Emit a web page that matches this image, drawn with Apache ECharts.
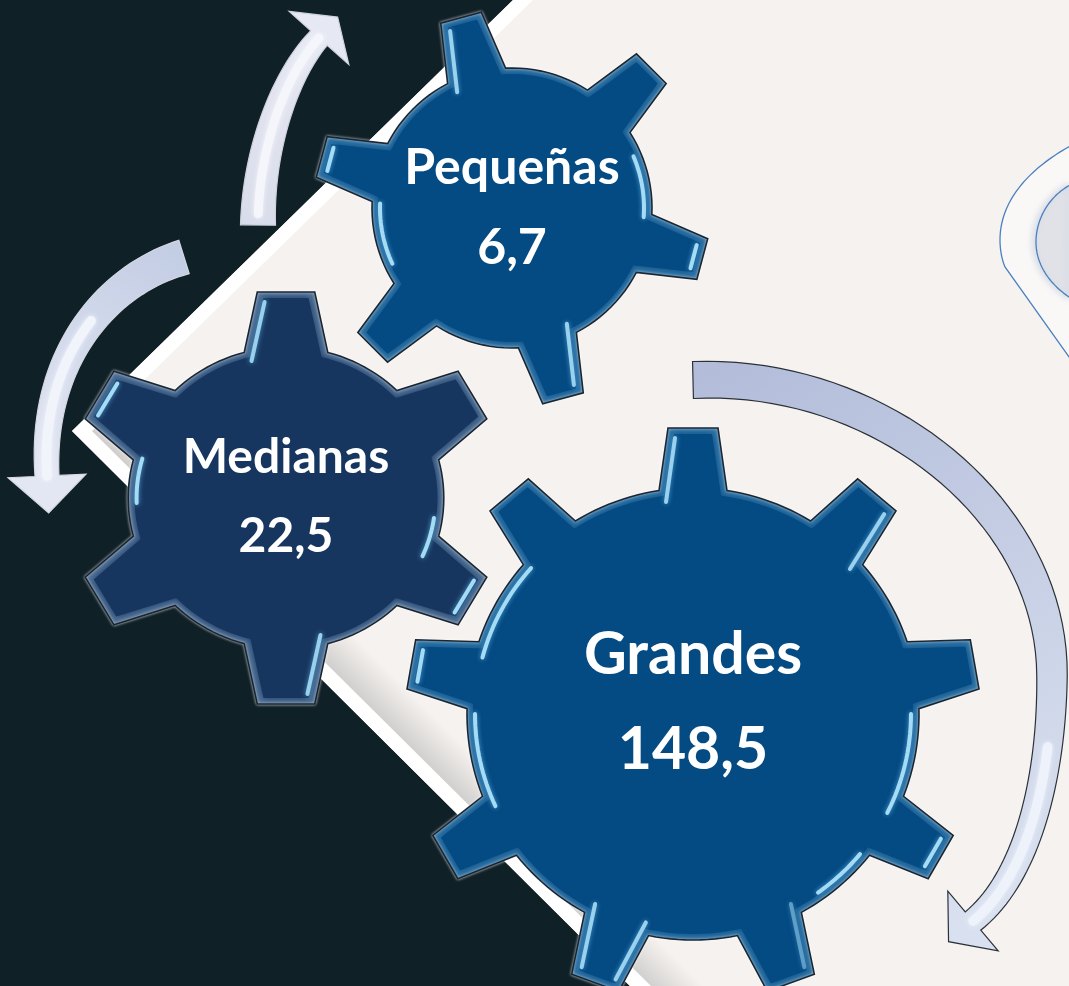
<!DOCTYPE html>
<html>
<head>
<meta charset="utf-8">
<title>Empresas</title>
<script src="https://cdn.jsdelivr.net/npm/echarts@6/dist/echarts.min.js"></script>
<style>
  html, body { margin: 0; padding: 0; background: #0f2027; overflow: hidden; }
  #main { width: 1069px; height: 986px; }
</style>
</head>
<body>
<div id="main"></div>
<script>
// values
let gearNames = ['Pequeñas', 'Medianas', 'Grandes'];
let gearValues = [6.7, 22.5, 148.5];

// layout, in axis units (the axes run 1:1 with the page)
let gearLayout = [
  {
    cx: 512, cy: 208, outer: 197, body: 140, tipW: 42, baseW: 60, teeth: 6, start: 45, sx: 1,
    main: '#044a83', bevel: '#2f73a5', fontSize: 50, nameY: -40, valueY: 40,
    flanks: [[5, 1, 0.9], [2, 1, 0.9]],
    tips: [4, 1],
    arcs: [[-4, 23], [178, 205]]
  },
  {
    cx: 286, cy: 498, outer: 206, body: 151, tipW: 55, baseW: 80, teeth: 6, start: 90, sx: 1.045,
    main: '#17365f', bevel: '#4f7096', fontSize: 48, nameY: -40, valueY: 39,
    flanks: [[0, 1, 0.9], [3, 1, 0.9]],
    tips: [5, 2],
    arcs: [[-24, -8], [164, 182]]
  },
  {
    cx: 693, cy: 714, outer: 286, body: 226, tipW: 50, baseW: 68, teeth: 9, start: 90, sx: 1,
    main: '#044a83', bevel: '#2f73a5', fontSize: 59, nameY: -59, valueY: 36,
    flanks: [[0, 1, 0.9], [1, -1, 0.9], [5, 1, 0.9], [5, -1, 0.9], [4, 1, 0.5]],
    tips: [7, 3],
    arcs: [[138, 165], [180, 205], [-27, 0], [-55, -40]]
  }
];

let arrowLayout = [
  {
    curve: [[[258, 225], [258, 150], [285, 75], [319, 38]]],
    w0: 35, w1: 22, headHalf: 40, headLen: 28,
    c0: '#d9dcea', c1: '#e6e9f3', line: '#cfd2dd', stripe: '#f4f6fb', stripeFrom: 0.05
  },
  {
    curve: [[[184, 257], [105, 280], [40, 360], [47, 476]]],
    w0: 35, w1: 24, headHalf: 39, headLen: 37,
    c0: '#c3cde4', c1: '#e3e7f3', line: '#d5d8e2', stripe: '#f1f4fb', stripeFrom: 0.45
  },
  {
    curve: [
      [[693, 380], [880, 372], [1052, 510], [1052, 675]],
      [[1052, 675], [1052, 770], [1030, 875], [973, 921]]
    ],
    w0: 37, w1: 24, headHalf: 39, headLen: 32,
    c0: '#b3bdda', c1: '#d9e0ef', line: '#2b3138', stripe: '#eef2fa', stripeFrom: 0.62
  }
];

let pageColor = '#f6f2ef';

function sampleCurve(segs) {
  let pts = [];
  segs.forEach(function (s, k) {
    for (let i = k ? 1 : 0; i <= 40; i++) {
      let t = i / 40, m = 1 - t;
      pts.push([
        m * m * m * s[0][0] + 3 * m * m * t * s[1][0] + 3 * m * t * t * s[2][0] + t * t * t * s[3][0],
        m * m * m * s[0][1] + 3 * m * m * t * s[1][1] + 3 * m * t * t * s[2][1] + t * t * t * s[3][1]
      ]);
    }
  });
  return pts;
}

function unitAt(pts, i) {
  let a = pts[Math.max(i - 1, 0)], b = pts[Math.min(i + 1, pts.length - 1)];
  let dx = b[0] - a[0], dy = b[1] - a[1], len = Math.sqrt(dx * dx + dy * dy);
  return [dx / len, dy / len];
}

function arrowElements(a) {
  let pts = sampleCurve(a.curve);
  let left = [], right = [], n = pts.length - 1;
  pts.forEach(function (p, i) {
    let u = unitAt(pts, i);
    let w = (a.w0 + (a.w1 - a.w0) * i / n) / 2;
    left.push([p[0] + u[1] * w, p[1] - u[0] * w]);
    right.push([p[0] - u[1] * w, p[1] + u[0] * w]);
  });
  let end = pts[n], u = unitAt(pts, n);
  let head = [
    [end[0] + u[1] * a.headHalf, end[1] - u[0] * a.headHalf],
    [end[0] + u[0] * a.headLen, end[1] + u[1] * a.headLen],
    [end[0] - u[1] * a.headHalf, end[1] + u[0] * a.headHalf]
  ];
  let outline = left.concat(head, right.slice().reverse());
  let fill = new echarts.graphic.LinearGradient(pts[0][0], pts[0][1], end[0], end[1], [
    { offset: 0, color: a.c0 },
    { offset: 1, color: a.c1 }
  ], true);
  return [
    { type: 'polygon', z: 3, shape: { points: outline }, style: { fill: fill, stroke: a.line, lineWidth: 1.2 } },
    {
      type: 'polyline', z: 4,
      shape: { points: pts.slice(Math.round(a.stripeFrom * n)) },
      style: { fill: null, stroke: a.stripe, lineWidth: a.w1 * 0.4, shadowBlur: 5, shadowColor: a.stripe, lineCap: 'round' }
    }
  ];
}

function backgroundElements() {
  let els = [];
  // sheet of paper
  els.push({
    type: 'polygon', z: 0,
    shape: { points: [[513, 0], [72, 431], [630, 986], [1069, 986], [1069, 0]] },
    style: { fill: pageColor }
  });
  // soft grey shadow on the lower edge
  els.push({
    type: 'polygon', z: 1,
    shape: { points: [[82, 431], [630, 986], [712, 986], [130, 405]] },
    style: {
      fill: new echarts.graphic.LinearGradient(370, 720, 404, 686, [
        { offset: 0, color: '#c9c7c5' },
        { offset: 0.35, color: '#d8d6d4' },
        { offset: 1, color: pageColor }
      ], true)
    }
  });
  // white rims
  els.push({
    type: 'polygon', z: 2,
    shape: { points: [[513, 0], [72, 431], [92, 431], [533, 0]] },
    style: { fill: '#ffffff' }
  });
  els.push({
    type: 'polygon', z: 2,
    shape: { points: [[72, 431], [630, 986], [651, 986], [92, 431]] },
    style: { fill: '#ffffff' }
  });
  // shape cut off by the right edge
  let outerEdge = sampleCurve([[[1072, 145], [1030, 168], [1000, 200], [1000, 240]], [[1000, 240], [1000, 250], [1002, 260], [1005, 267]]]);
  outerEdge.push([1072, 361]);
  els.push({
    type: 'polygon', z: 1,
    shape: { points: outerEdge },
    style: { fill: '#faf8f7', stroke: '#4a80bf', lineWidth: 1.3 }
  });
  let innerEdge = sampleCurve([[[1072, 184], [1050, 195], [1036, 218], [1036, 242]], [[1036, 242], [1036, 265], [1050, 285], [1072, 299]]]);
  els.push({
    type: 'polygon', z: 2,
    shape: { points: innerEdge },
    style: { fill: '#e0e2e8', stroke: '#4a80bf', lineWidth: 1.3, shadowBlur: 6, shadowOffsetX: -3, shadowColor: 'rgba(150,165,200,0.35)' }
  });
  return els;
}

// polygon of a gear around 0,0: teeth are placed every 360/teeth degrees
function gearPoints(g, inset) {
  let pts = [];
  let outer = g.outer - inset, body = g.body - inset;
  let tipW = Math.max(g.tipW - inset * 2, 2), baseW = Math.max(g.baseW - inset * 2, 2);
  let step = 360 / g.teeth;
  let half = Math.asin(baseW / 2 / body);
  for (let i = 0; i < g.teeth; i++) {
    let a = (g.start - i * step) * Math.PI / 180;
    let u = [Math.cos(a), -Math.sin(a)], v = [Math.sin(a), Math.cos(a)];
    // clockwise on screen: left flank first
    let along = Math.sqrt(body * body - baseW * baseW / 4);
    pts.push([u[0] * along - v[0] * baseW / 2, u[1] * along - v[1] * baseW / 2]);
    pts.push([u[0] * outer - v[0] * tipW / 2, u[1] * outer - v[1] * tipW / 2]);
    pts.push([u[0] * outer + v[0] * tipW / 2, u[1] * outer + v[1] * tipW / 2]);
    pts.push([u[0] * along + v[0] * baseW / 2, u[1] * along + v[1] * baseW / 2]);
    let from = a - half, to = a - step * Math.PI / 180 + half;
    for (let k = 1; k < 12; k++) {
      let b = from + (to - from) * k / 12;
      pts.push([Math.cos(b) * body, -Math.sin(b) * body]);
    }
  }
  return pts;
}

function gearHighlights(g, cx, cy) {
  let out = [];
  let inset = 6;
  let outer = g.outer - inset, body = g.body - inset - 2;
  let step = 360 / g.teeth;
  let tx = function (p) { return [cx + p[0] * g.sx, cy + p[1]]; };
  let glow = { fill: null, stroke: '#a5dcf5', lineWidth: 4, shadowBlur: 5, shadowColor: '#4f9fd3', lineCap: 'round' };
  g.flanks.forEach(function (f) {
    let a = (g.start - f[0] * step) * Math.PI / 180;
    let u = [Math.cos(a), -Math.sin(a)], v = [Math.sin(a), Math.cos(a)];
    let tipW = g.tipW - 14, baseW = g.baseW - 14;
    // f[1]: 1 is the flank on the counter-clockwise side of the tooth
    let s = -f[1];
    let p0 = [u[0] * (outer - 4) + s * v[0] * tipW / 2, u[1] * (outer - 4) + s * v[1] * tipW / 2];
    let p1 = [u[0] * (body - 6) + s * v[0] * baseW / 2, u[1] * (body - 6) + s * v[1] * baseW / 2];
    out.push({
      type: 'line',
      shape: { x1: tx(p0)[0], y1: tx(p0)[1], x2: tx(p1)[0], y2: tx(p1)[1] },
      style: Object.assign({}, glow, { opacity: f[2] })
    });
  });
  g.tips.forEach(function (i) {
    let a = (g.start - i * step) * Math.PI / 180;
    let u = [Math.cos(a), -Math.sin(a)], v = [Math.sin(a), Math.cos(a)];
    let w = g.tipW / 2 - 9, r = outer - 3;
    let p0 = tx([u[0] * r + v[0] * w, u[1] * r + v[1] * w]);
    let p1 = tx([u[0] * r - v[0] * w, u[1] * r - v[1] * w]);
    out.push({ type: 'line', shape: { x1: p0[0], y1: p0[1], x2: p1[0], y2: p1[1] }, style: glow });
  });
  g.arcs.forEach(function (arc) {
    let pts = [];
    for (let k = 0; k <= 16; k++) {
      let b = (arc[0] + (arc[1] - arc[0]) * k / 16) * Math.PI / 180;
      pts.push(tx([Math.cos(b) * body, -Math.sin(b) * body]));
    }
    out.push({ type: 'polyline', shape: { points: pts }, style: glow });
  });
  return out;
}

function renderGear(params, api) {
  let g = gearLayout[params.dataIndex];
  let c = api.coord([api.value(0), api.value(1)]);
  let toPage = function (p) { return [c[0] + p[0] * g.sx, c[1] + p[1]]; };
  let label = gearValues[params.dataIndex].toFixed(1).replace('.', ',');
  let text = function (str, y) {
    return {
      type: 'text', z2: 10,
      style: {
        x: c[0], y: c[1] + y, text: str,
        fill: '#ffffff', font: 'bold ' + g.fontSize + 'px Lato, "Open Sans", sans-serif',
        textAlign: 'center', textVerticalAlign: 'middle'
      }
    };
  };
  let children = [
    {
      type: 'polygon',
      shape: { points: gearPoints(g, 0).map(toPage) },
      style: { fill: g.bevel, stroke: '#1a2530', lineWidth: 1.6, shadowBlur: 3, shadowColor: 'rgba(255,255,255,0.75)' }
    },
    {
      type: 'polygon',
      shape: { points: gearPoints(g, 6).map(toPage) },
      style: { fill: g.main, shadowBlur: 6, shadowColor: g.main }
    }
  ].concat(gearHighlights(g, c[0], c[1]));
  children.push(text(gearNames[params.dataIndex], g.nameY));
  children.push(text(label, g.valueY));
  return { type: 'group', children: children };
}

let myChart = echarts.init(document.getElementById('main'), null, { renderer: 'canvas' });
let graphicElements = backgroundElements();
arrowLayout.forEach(function (a) {
  graphicElements = graphicElements.concat(arrowElements(a));
});

myChart.setOption({
  animation: false,
  backgroundColor: '#0f2027',
  graphic: { elements: graphicElements },
  grid: { left: 0, right: 0, top: 0, bottom: 0 },
  xAxis: { type: 'value', min: 0, max: 1069, show: false },
  yAxis: { type: 'value', min: 0, max: 986, inverse: true, show: false },
  series: [{
    type: 'custom',
    z: 10,
    clip: false,
    renderItem: renderGear,
    encode: { x: 0, y: 1 },
    data: gearNames.map(function (name, i) {
      return { name: name, value: [gearLayout[i].cx, gearLayout[i].cy, gearValues[i]] };
    })
  }]
});
</script>
</body>
</html>
